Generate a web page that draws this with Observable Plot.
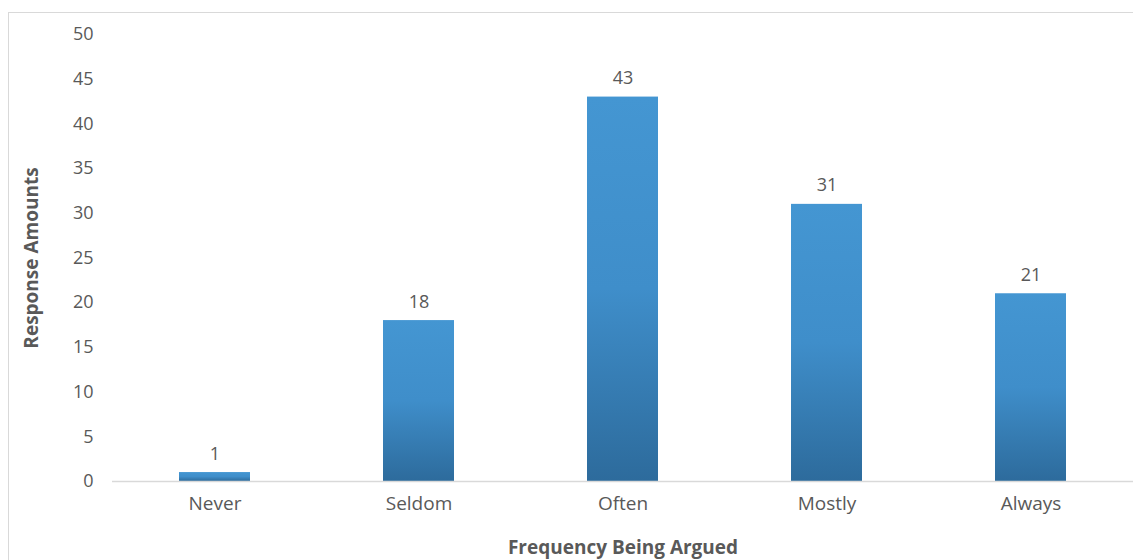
<!DOCTYPE html>
<html><head><meta charset="utf-8">
<script src="https://cdn.jsdelivr.net/npm/d3@7"></script>
<script src="https://cdn.jsdelivr.net/npm/@observablehq/plot@0.6"></script>
<style>
html,body{margin:0;padding:0;background:#fff;overflow:hidden;}
#wrap{position:relative;width:1133px;height:560px;}
#frame{position:absolute;left:8px;top:12px;width:1200px;height:700px;border:1px solid #d9d9d9;box-sizing:border-box;}
#chart{position:absolute;left:0;top:0;}
</style>
</head><body>
<div id="wrap"><div id="frame"></div><div id="chart"></div></div>
<script>
const categories = ["Never", "Seldom", "Often", "Mostly", "Always"];
const values = [1, 18, 43, 31, 21];
const yTicks = [0, 5, 10, 15, 20, 25, 30, 35, 40, 45, 50];

const data = categories.map((c, i) => ({category: c, value: values[i]}));

const grad = () => {
  const svg = d3.create("svg:g");
  const g = svg.append("defs").append("linearGradient")
    .attr("id", "barGrad").attr("x1", 0).attr("x2", 0).attr("y1", 0).attr("y2", 1);
  g.append("stop").attr("offset", "0%").attr("stop-color", "#4496D2");
  g.append("stop").attr("offset", "50%").attr("stop-color", "#3F8ECA");
  g.append("stop").attr("offset", "100%").attr("stop-color", "#2D6B9C");
  return svg.node();
};

const font = "'Open Sans', Lato, sans-serif";

const chart = Plot.plot({
  width: 1133,
  height: 560,
  marginTop: 34,
  marginBottom: 79,
  marginLeft: 112,
  marginRight: 0,
  style: {fontFamily: font, fontSize: "18px", color: "#595959", background: "transparent"},
  x: {domain: categories, paddingInner: 0.65, paddingOuter: 0.325, label: "Frequency Being Argued", labelAnchor: "center", labelOffset: 72, tickSize: 0, tickPadding: 15},
  y: {domain: [0, 50], ticks: yTicks, label: "Response Amounts", labelAnchor: "center", labelOffset: 88, tickSize: 0, tickPadding: 19, labelArrow: "none"},
  marks: [
    grad,
    Plot.barY(data, {x: "category", y: "value", fill: "url(#barGrad)"}),
    Plot.ruleY([0], {stroke: "#d9d9d9", strokeWidth: 1.5}),
    Plot.text(data, {x: "category", y: "value", text: d => String(d.value), dy: -13, lineAnchor: "bottom", fill: "#595959", fontSize: 18, fontFamily: font, fontVariant: "normal"})
  ]
});
d3.select(chart).selectAll("[aria-label='x-axis tick label'] text").style("font-size", "19px");
d3.select(chart).selectAll("[aria-label='x-axis label'] text, [aria-label='y-axis label'] text")
  .style("font-weight", "bold").style("font-size", "19px");
document.getElementById("chart").appendChild(chart);
</script>
</body></html>
